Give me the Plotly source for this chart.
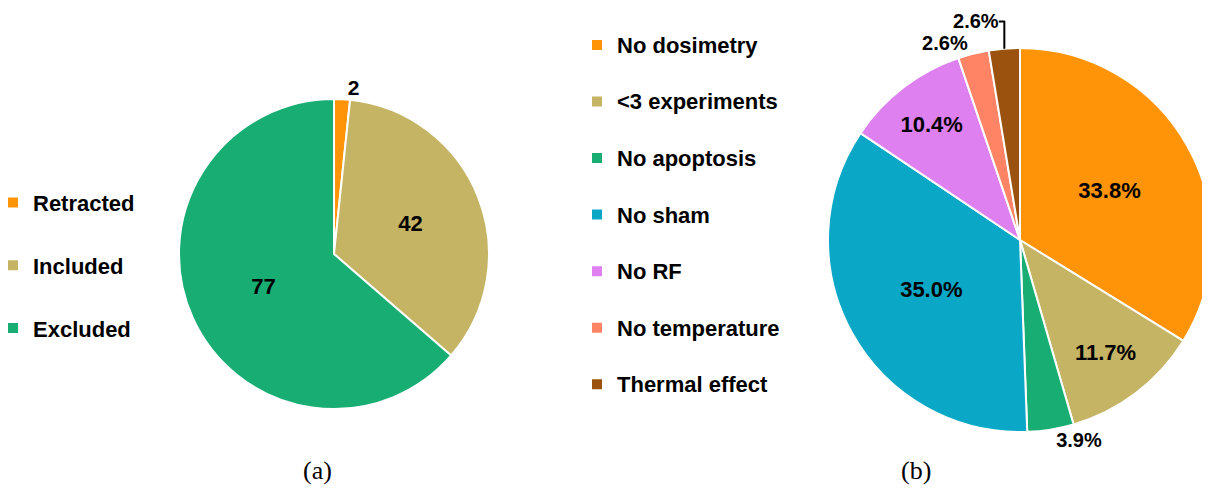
import plotly.graph_objects as go

# Left pie (a)
a_labels = ["Retracted", "Included", "Excluded"]
a_values = [2, 42, 77]
a_colors = ["#FF9408", "#C4B464", "#17AD73"]
a_textpos = ["outside", "inside", "inside"]

# Right pie (b): percentages
b_labels = ["No dosimetry", "<3 experiments", "No apoptosis", "No sham",
            "No RF", "No temperature", "Thermal effect"]
b_values = [33.8, 11.7, 3.9, 35.0, 10.4, 2.6, 2.6]
b_colors = ["#FF9408", "#C4B464", "#17AD73", "#0BA7C6",
            "#DE80F0", "#FF8466", "#9A520E"]
b_textpos = ["inside", "inside", "outside", "inside", "inside", "outside", "outside"]

captions = ["(a)", "(b)"]

FONT = "Liberation Sans, Arial, sans-serif"
W, H = 1210, 497
OFF = 8  # page body margin


def px(x):
    return (x - OFF) / W


def py(y):
    return 1 - (y - OFF) / H


def leg_labels(labels, size):
    return [f"<span style='font-size:{size}px'>{l}</span><br> " for l in labels]


fig = go.Figure()
fig.add_trace(go.Pie(
    labels=leg_labels(a_labels, 22), values=a_values, sort=False,
    direction="clockwise", rotation=0,
    marker=dict(colors=a_colors, line=dict(color="white", width=2)),
    texttemplate="%{value}", textposition=a_textpos,
    insidetextorientation="horizontal",
    insidetextfont=dict(family=FONT, size=22, color="black", weight="bold"),
    outsidetextfont=dict(family=FONT, size=21, color="black", weight="bold"),
    domain=dict(x=[px(179), px(489)], y=[py(409), py(99)]),
    legend="legend", hoverinfo="label+value",
))
fig.add_trace(go.Pie(
    labels=leg_labels(b_labels, 22), values=b_values, sort=False,
    direction="clockwise", rotation=0,
    marker=dict(colors=b_colors, line=dict(color="white", width=2)),
    texttemplate="%{value:.1f}%", textposition=b_textpos,
    insidetextorientation="horizontal",
    insidetextfont=dict(family=FONT, size=22, color="black", weight="bold"),
    outsidetextfont=dict(family=FONT, size=20, color="black", weight="bold"),
    domain=dict(x=[px(828), px(1212)], y=[py(432), py(48)]),
    legend="legend2", hoverinfo="label+value",
))

for cap, cx in zip(captions, [317, 916]):
    fig.add_annotation(text=cap, x=px(cx), y=py(470), xref="paper", yref="paper",
                       xanchor="center", yanchor="middle", showarrow=False,
                       font=dict(family="Liberation Serif, serif", size=26, color="black"))

fig.update_layout(
    width=W, height=H,
    margin=dict(l=0, r=0, t=0, b=0, autoexpand=False),
    paper_bgcolor="white", plot_bgcolor="white",
    font=dict(family=FONT, color="black"),
    legend=dict(x=px(-7), y=py(181), xanchor="left", yanchor="top",
                font=dict(family=FONT, size=23, color="black", weight="bold"),
                valign="top", bgcolor="rgba(0,0,0,0)", itemclick=False),
    legend2=dict(x=px(577), y=py(25), xanchor="left", yanchor="top",
                 font=dict(family=FONT, size=20.6, color="black", weight="bold"),
                 valign="top", bgcolor="rgba(0,0,0,0)", itemclick=False),
)

fig.write_html("out.html")
